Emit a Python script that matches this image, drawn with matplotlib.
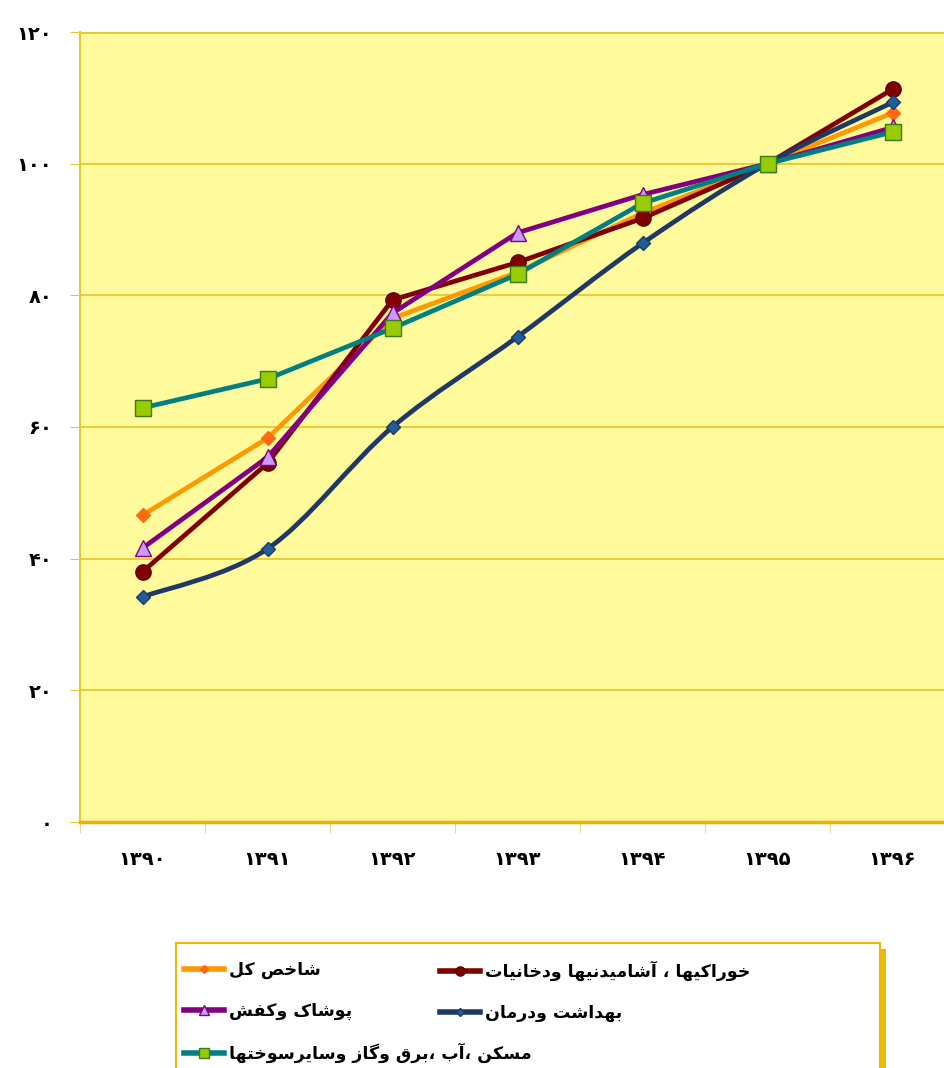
"""Price index chart, 1390-1396."""
import matplotlib
matplotlib.use('Agg')
import matplotlib.pyplot as plt
from matplotlib.path import Path
from matplotlib.patches import PathPatch, Rectangle
from matplotlib.lines import Line2D

years = ['1390', '1391', '1392', '1393', '1394', '1395', '1396']
y_ticks = [0, 20, 40, 60, 80, 100, 120]

total = [46.6, 58.3, 76.5, 83.5, 92.5, 100, 107.7]
food = [38.0, 54.5, 79.3, 85.0, 91.7, 100, 111.3]
clothing = [41.6, 55.4, 77.3, 89.5, 95.3, 100, 105.5]
health = [34.2, 41.5, 60.0, 73.7, 87.9, 100, 109.3]
housing = [62.9, 67.3, 75.0, 83.2, 94.0, 100, 104.8]

labels = ['شاخص کل',
          'خوراکیها ، آشامیدنیها ودخانیات',
          'پوشاک وکفش',
          'بهداشت ودرمان',
          'مسکن ،آب ،برق وگاز وسایرسوختها']

# presentation forms: isolated, final, initial, medial
FORMS = {
    'ا': (0xFE8D, 0xFE8E), 'آ': (0xFE81, 0xFE82),
    'ب': (0xFE8F, 0xFE90, 0xFE91, 0xFE92), 'پ': (0xFB56, 0xFB57, 0xFB58, 0xFB59),
    'ت': (0xFE95, 0xFE96, 0xFE97, 0xFE98), 'خ': (0xFEA5, 0xFEA6, 0xFEA7, 0xFEA8),
    'د': (0xFEA9, 0xFEAA), 'ر': (0xFEAD, 0xFEAE), 'ز': (0xFEAF, 0xFEB0),
    'س': (0xFEB1, 0xFEB2, 0xFEB3, 0xFEB4), 'ش': (0xFEB5, 0xFEB6, 0xFEB7, 0xFEB8),
    'ص': (0xFEB9, 0xFEBA, 0xFEBB, 0xFEBC), 'ف': (0xFED1, 0xFED2, 0xFED3, 0xFED4),
    'ق': (0xFED5, 0xFED6, 0xFED7, 0xFED8), 'ک': (0xFB8E, 0xFB8F, 0xFB90, 0xFB91),
    'گ': (0xFB92, 0xFB93, 0xFB94, 0xFB95), 'ل': (0xFEDD, 0xFEDE, 0xFEDF, 0xFEE0),
    'م': (0xFEE1, 0xFEE2, 0xFEE3, 0xFEE4), 'ن': (0xFEE5, 0xFEE6, 0xFEE7, 0xFEE8),
    'و': (0xFEED, 0xFEEE), 'ه': (0xFEE9, 0xFEEA, 0xFEEB, 0xFEEC),
    'ی': (0xFBFC, 0xFBFD, 0xFBFE, 0xFBFF),
}


def shape(text):
    """Join Persian letters and put them in visual order."""
    out = []
    for i, c in enumerate(text):
        if c not in FORMS:
            out.append(c)
            continue
        f = FORMS[c]
        prev = text[i - 1] if i > 0 else ''
        nxt = text[i + 1] if i + 1 < len(text) else ''
        j_prev = prev in FORMS and len(FORMS[prev]) == 4
        j_next = len(f) == 4 and nxt in FORMS
        if j_prev and j_next:
            out.append(chr(f[3]))
        elif j_prev:
            out.append(chr(f[1]))
        elif j_next:
            out.append(chr(f[2]))
        else:
            out.append(chr(f[0]))
    return ''.join(reversed(out))


def fa_digits(s):
    return ''.join(chr(0x06F0 + int(ch)) if ch.isdigit() else ch for ch in str(s))


def smooth_path(xs, ys):
    """Catmull-Rom style bezier through the points."""
    pts = list(zip(xs, ys))
    verts = [pts[0]]
    codes = [Path.MOVETO]
    n = len(pts)
    for i in range(n - 1):
        p0 = pts[i - 1] if i > 0 else pts[i]
        p1 = pts[i]
        p2 = pts[i + 1]
        p3 = pts[i + 2] if i + 2 < n else pts[i + 1]
        c1 = (p1[0] + (p2[0] - p0[0]) / 6, p1[1] + (p2[1] - p0[1]) / 6)
        c2 = (p2[0] - (p3[0] - p1[0]) / 6, p2[1] - (p3[1] - p1[1]) / 6)
        verts += [c1, c2, p2]
        codes += [Path.CURVE4] * 3
    return Path(verts, codes)


plt.rcParams['font.family'] = ['DejaVu Sans']

W, H = 945, 1068
fig = plt.figure(figsize=(W / 100, H / 100), dpi=100)
ax = fig.add_axes([80 / W, 246 / H, 875 / W, 790 / H])
ax.set_facecolor('#FFFA9C')

# values, line colour, marker, face, edge, size, smoothed
series = [
    (total, '#FF9900', 'D', '#FF6A10', '#FF6A10', 7, False),
    (food, '#800000', 'o', '#800000', '#5A0000', 11, False),
    (clothing, '#800080', '^', '#CC99FF', '#800080', 11, False),
    (health, '#1F3864', 'D', '#1F5F99', '#1F3864', 7, True),
    (housing, '#008080', 's', '#99CC00', '#3A7A20', 12, False),
]

x = list(range(len(years)))
handles = []
for (vals, col, mk, mfc, mec, ms, smooth), lab in zip(series, labels):
    if smooth:
        ax.add_patch(PathPatch(smooth_path(x, vals), fill=False, edgecolor=col,
                               lw=3.4, capstyle='round', joinstyle='round', zorder=3))
    else:
        ax.plot(x, vals, color=col, lw=3.4, solid_joinstyle='round',
                solid_capstyle='round', zorder=3)
    ax.plot(x, vals, ls='none', marker=mk, ms=ms, mfc=mfc, mec=mec, mew=1, zorder=4)
    handles.append(Line2D([], [], color=col, lw=4, marker=mk, ms=ms * 0.6,
                          mfc=mfc, mec=mec, label=shape(lab)))

ax.set_xlim(-0.5, len(years) - 0.5)
ax.set_ylim(0, 120)
ax.set_yticks(y_ticks)
ax.set_yticklabels([fa_digits(v) for v in y_ticks], fontsize=14, fontweight='bold')
ax.yaxis.grid(True, color='#E8C832', lw=1.3)
ax.set_axisbelow(True)

ax.set_xticks([i + 0.5 for i in range(-1, len(years))])
ax.set_xticklabels([])
ax.set_xticks(x, minor=True)
ax.set_xticklabels([fa_digits(y) for y in years], minor=True, fontsize=14,
                   fontweight='bold')
ax.tick_params(axis='x', which='minor', length=0, pad=20)
ax.tick_params(axis='x', which='major', length=8, color='#E8D890')
ax.tick_params(axis='y', length=7, color='#E8C832', pad=13)

for side in ['top', 'right']:
    ax.spines[side].set_visible(False)
ax.spines['left'].set_color('#E8C832')
ax.spines['left'].set_linewidth(1.5)
ax.spines['bottom'].set_color('#F0B000')
ax.spines['bottom'].set_linewidth(2.5)
ax.axhline(120, color='#E8C832', lw=2, zorder=2)

# legend box with shadow, entries in two free columns
fig.patches.append(Rectangle((182 / W, -0.05), 704 / W, (H - 949) / H + 0.05,
                             transform=fig.transFigure, facecolor='#F0B800',
                             edgecolor='none', zorder=1))
fig.patches.append(Rectangle((176 / W, -0.05), 704 / W, (H - 943) / H + 0.05,
                             transform=fig.transFigure, facecolor='white',
                             edgecolor='#F0B800', lw=1.5, zorder=2))

columns = [([0, 2, 4], 184), ([1, 3], 440)]
for idx, left in columns:
    leg = fig.legend([handles[i] for i in idx], [handles[i].get_label() for i in idx],
                     loc='upper left', bbox_to_anchor=(left / W, (H - 961) / H),
                     prop={'size': 12.5, 'weight': 'bold'}, frameon=False,
                     handlelength=2.3, handletextpad=0.3, borderpad=0,
                     labelspacing=1.3, borderaxespad=0)
    leg.set_zorder(3)

fig.savefig('out.png', dpi=100)
